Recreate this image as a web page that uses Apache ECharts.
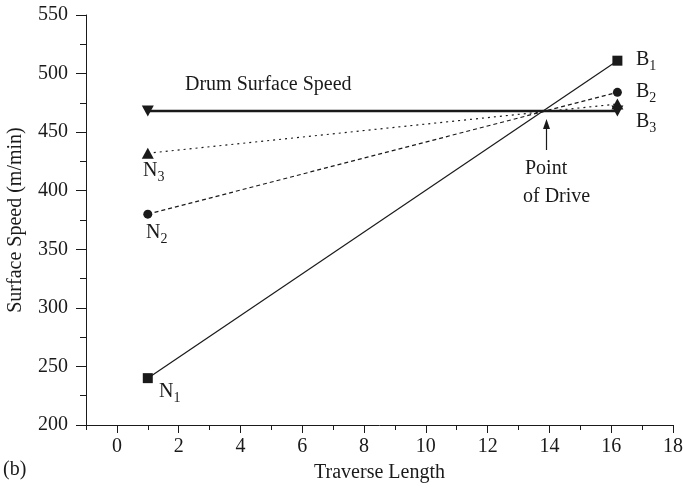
<!DOCTYPE html>
<html><head><meta charset="utf-8">
<script src="https://cdn.jsdelivr.net/npm/echarts@6/dist/echarts.min.js"></script>
<style>html,body{margin:0;padding:0;background:#fff}#c{width:683px;height:489px}</style>
</head><body><div id="c"></div>
<script>
// ---- data ----
const drumPts = [[1, 468], [16.2, 468]];
const set1Pts = [[1, 240], [16.2, 511]];
const set2Pts = [[1, 380], [16.2, 484]];
const set3Pts = [[1, 432], [16.2, 474]];
const xMajorTicks = [0, 2, 4, 6, 8, 10, 12, 14, 16, 18];
const yTicks = [200, 250, 300, 350, 400, 450, 500, 550];

const FONT = 'Liberation Serif';
const INK = '#1a1a1a';
const chart = echarts.init(document.getElementById('c'), null, {renderer: 'canvas'});

function sub(main, s, x, y) {
  return {
    type: 'text', left: x, top: y,
    style: {
      rich: {
        m: {fontFamily: FONT, fontSize: 20, fill: INK, lineHeight: 22},
        s: {fontFamily: FONT, fontSize: 14, fill: INK, padding: [12, 0, 0, 0], lineHeight: 22}
      },
      text: '{m|' + main + '}{s|' + s + '}'
    }
  };
}

const option = {
  animation: false,
  backgroundColor: '#fff',
  grid: {left: 86, right: 10, top: 15, bottom: 64, containLabel: false, outerBoundsMode: 'none'},
  xAxis: [{
    type: 'value', min: -1, max: 18, position: 'bottom',
    axisLine: {onZero: false, lineStyle: {color: INK, width: 1}},
    axisTick: {show: true, length: 8, customValues: xMajorTicks, lineStyle: {color: INK}},
    axisLabel: {customValues: xMajorTicks, fontFamily: FONT, fontSize: 20, color: INK, margin: 12},
    splitLine: {show: false},
    name: 'Traverse Length', nameLocation: 'middle', nameGap: 38,
    nameTextStyle: {fontFamily: FONT, fontSize: 20, color: INK}
  }, {
    type: 'value', min: -1, max: 18, interval: 1, position: 'bottom',
    axisLine: {show: false, onZero: false},
    axisTick: {show: true, length: 5, lineStyle: {color: INK}},
    axisLabel: {show: false},
    splitLine: {show: false}
  }],
  yAxis: {
    type: 'value', min: yTicks[0], max: yTicks[yTicks.length - 1], interval: 50,
    axisLine: {show: true, onZero: false, lineStyle: {color: INK, width: 1}},
    axisTick: {show: true, length: 10, lineStyle: {color: INK}},
    minorTick: {show: true, splitNumber: 2, length: 6, lineStyle: {color: INK}},
    axisLabel: {fontFamily: FONT, fontSize: 20, color: INK, margin: 18},
    splitLine: {show: false},
    name: 'Surface Speed (m/min)', nameLocation: 'middle', nameGap: 60,
    nameTextStyle: {fontFamily: FONT, fontSize: 20, color: INK}
  },
  series: [
    {type: 'line', name: 'set1', data: set1Pts, symbol: 'rect', symbolSize: 10,
     lineStyle: {color: INK, width: 1.2, type: 'solid'}, itemStyle: {color: INK}, z: 3},
    {type: 'line', name: 'set2', data: set2Pts, symbol: 'circle', symbolSize: 9,
     lineStyle: {color: INK, width: 1.2, type: [4, 3]}, itemStyle: {color: INK}, z: 3},
    {type: 'line', name: 'set3', data: set3Pts, symbol: 'triangle', symbolSize: [12, 11],
     lineStyle: {color: INK, width: 1.2, type: [2, 4]}, itemStyle: {color: INK}, z: 3},
    {type: 'line', name: 'drum', data: drumPts, symbol: 'triangle', symbolRotate: 180, symbolSize: [12, 11],
     lineStyle: {color: INK, width: 2.6}, itemStyle: {color: INK}, z: 4}
  ],
  graphic: [
    {type: 'text', left: 185, top: 75, style: {text: 'Drum Surface Speed', fontFamily: FONT, fontSize: 20, fill: INK}},
    sub('N', '1', 159, 379),
    sub('N', '2', 146, 220),
    sub('N', '3', 143, 158),
    sub('B', '1', 636, 47),
    sub('B', '2', 636, 79),
    sub('B', '3', 636, 109),
    {type: 'text', left: 525, top: 159, style: {text: 'Point', fontFamily: FONT, fontSize: 20, fill: INK}},
    {type: 'text', left: 523, top: 187, style: {text: 'of Drive', fontFamily: FONT, fontSize: 20, fill: INK}},
    {type: 'line', shape: {x1: 546.5, y1: 150, x2: 546.5, y2: 124}, style: {stroke: INK, lineWidth: 1.2}},
    {type: 'polygon', shape: {points: [[546.5, 119], [543, 129], [550, 129]]}, style: {fill: INK}},
    {type: 'text', left: 3, top: 460, style: {text: '(b)', fontFamily: FONT, fontSize: 20, fill: INK}}
  ]
};
chart.setOption(option);
</script></body></html>
